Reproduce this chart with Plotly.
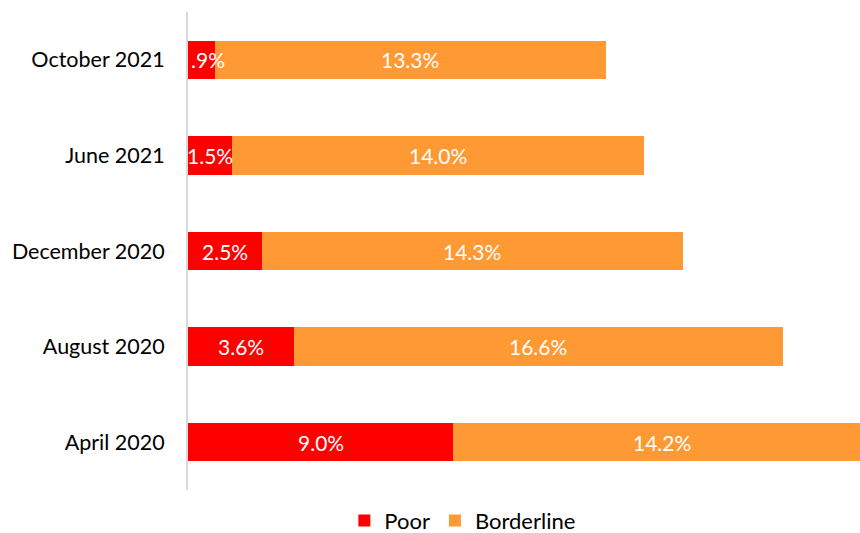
import plotly.graph_objects as go

# Survey waves, bottom to top
waves = ["April 2020", "August 2020", "December 2020", "June 2021", "October 2021"]
poor = [9.0, 3.6, 2.5, 1.5, 0.9]
borderline = [14.2, 16.6, 14.3, 14.0, 13.3]

RED = "#FF0000"
ORANGE = "#FF9933"
FONT = "Lato"


def fmt(v):
    s = f"{v:.1f}%"
    return s[1:] if s.startswith("0") else s


fig = go.Figure()
fig.add_trace(go.Bar(y=waves, x=poor, name="Poor", orientation="h",
                     marker=dict(color=RED, line=dict(width=0))))
fig.add_trace(go.Bar(y=waves, x=borderline, name="Borderline", orientation="h",
                     marker=dict(color=ORANGE, line=dict(width=0))))

label_font = dict(color="white", size=21, family=FONT)
annotations = []
for w, p, b in zip(waves, poor, borderline):
    if p < 1.2:
        annotations.append(dict(x=0, y=w, text=fmt(p), xanchor="left", xshift=1,
                                showarrow=False, font=label_font))
    else:
        annotations.append(dict(x=p / 2, y=w, text=fmt(p), showarrow=False, font=label_font))
    annotations.append(dict(x=p + b / 2, y=w, text=fmt(b), showarrow=False, font=label_font))

fig.update_layout(
    width=860, height=533,
    margin=dict(l=188, r=0, t=12, b=43, autoexpand=False),
    barmode="stack", bargap=0.6,
    plot_bgcolor="white", paper_bgcolor="white",
    font=dict(family=FONT, size=21, color="#000000"),
    showlegend=True,
    legend=dict(orientation="h", x=0.409, xanchor="center", y=-0.064, yanchor="middle",
                xref="paper", yref="paper", font=dict(size=22, family=FONT),
                traceorder="normal", itemwidth=30, bgcolor="rgba(0,0,0,0)"),
    annotations=annotations,
    xaxis=dict(range=[0, 22.82], visible=False, fixedrange=True),
    yaxis=dict(showline=True, linecolor="#D9D9D9", linewidth=2, showgrid=False,
               ticks="", ticklabelstandoff=17, automargin=False,
               tickfont=dict(size=21.5, family=FONT, color="#000000")),
)

fig.write_html("out.html")
